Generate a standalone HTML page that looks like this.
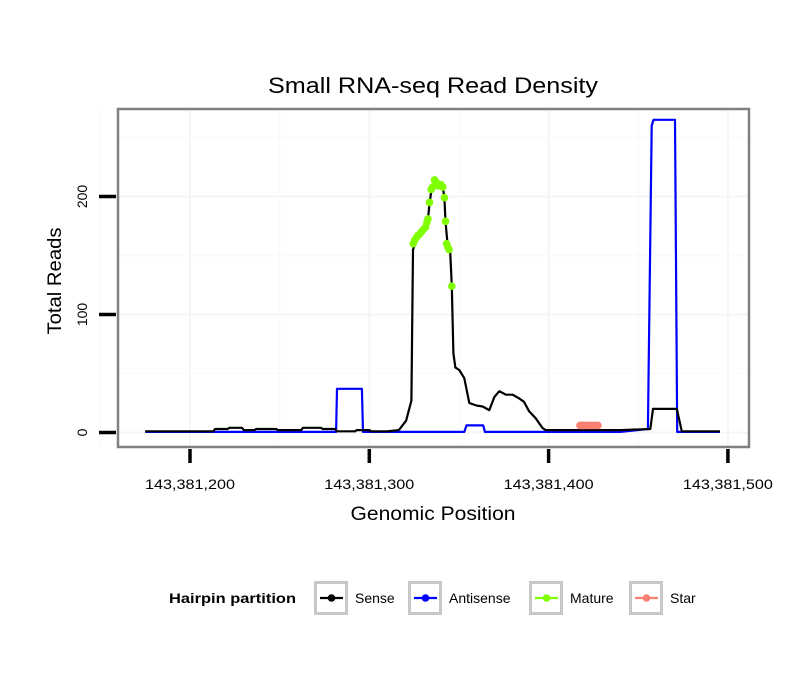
<!DOCTYPE html>
<html><head><meta charset="utf-8">
<style>
body{margin:0;background:#fff;}
svg{display:block;font-family:"Liberation Sans",Arial,sans-serif;}
</style></head>
<body>
<svg id="chart" width="810" height="690" viewBox="0 0 810 690">
<text x="433" y="93" font-size="22" text-anchor="middle" textLength="330" lengthAdjust="spacingAndGlyphs">Small RNA-seq Read Density</text>
<rect x="118" y="109" width="631" height="338" fill="#fff"/>
<g id="grid"></g>
<g id="series"></g>
<rect x="118" y="109" width="631" height="338" fill="none" stroke="#808080" stroke-width="2.5"/>
<g id="axes"></g>
<text x="433" y="520" font-size="19" text-anchor="middle" textLength="165" lengthAdjust="spacingAndGlyphs">Genomic Position</text>
<text transform="translate(61,281) rotate(-90)" font-size="19" text-anchor="middle" textLength="107" lengthAdjust="spacingAndGlyphs">Total Reads</text>
<g>
<text x="169" y="603" font-size="14" font-weight="bold" textLength="127" lengthAdjust="spacingAndGlyphs">Hairpin partition</text>
<g id="legend-items"></g>
</g>
</svg>
<script>
// genomic offsets from 143,381,000
const xTicks=[200,300,400,500];
const xTickLabels=["143,381,200","143,381,300","143,381,400","143,381,500"];
const yTicks=[0,100,200];
const yTickLabels=["0","100","200"];
const senseX=[175,213,214,221,222,229,230,236,237,243,244,248,249,262,263,273,274,281,282,292,293,300,301,310,316.5,320.5,323.5,324.4,326.2,329,331.4,332.7,333.6,334.5,336.4,338.8,341,341.9,342.5,343.8,345.1,346,346.9,348,350.2,353,355.8,359.5,363.2,366.9,369.7,372.5,376.2,379.9,383.5,386.3,389.1,392.8,396.5,398.3,420,440,456.7,458.2,471.5,474.3,495.6];
const senseY=[1,1,3,3,4,4,2,2,3,3,3,3,2,2,4,4,3,3,1,1,2,2,1,1,2,10,27,155,162,167,173,180,194,204,212,210,208,199,179,157,153,124,67,55,53,46,25,23,22,19,30,35,32,32,29,26,18,12,4,2,2,2,3,20,20,1,1];
const antiX=[175,220,281.5,282,295.9,296.5,300,353,354.2,363.5,364.5,440,455.4,457.5,458.5,470.5,471.7,495.6];
const antiY=[0.5,0.5,0.5,37,37,0.5,0.5,0.5,6,6,0.5,0.5,3,260,265,265,0.5,0.5];
const matureX=[324.5,325.3,326.2,327.1,328,329,330.1,331.4,332.1,332.7,333.6,334.5,335.3,336.4,337.3,338.1,338.8,340,341,341.9,342.5,343.1,343.8,344.5,346];
const matureY=[160,163,165,167,168,170,172,174,178,181,195,206,208,214,212,210,209,210,208,199,179,160,157,155,124];
const starX=[417.5,418.5,419.5,420.5,421.5,422.5,423.5,424.5,425.5,426.5,427.5];
const starY=[6,6,6,6,6,6,6,6,6,6,6];

const NS="http://www.w3.org/2000/svg";
const X0=190,XS=1.793,Y0=432.5,YS=1.18;
const sx=p=>X0+(p-200)*XS;
const sy=v=>Y0-v*YS;
function el(tag,attrs,parent){const e=document.createElementNS(NS,tag);for(const k in attrs)e.setAttribute(k,attrs[k]);parent.appendChild(e);return e;}
const grid=document.getElementById('grid'),series=document.getElementById('series'),axes=document.getElementById('axes');
[150,250,350,450].forEach(p=>{const l=el('line',{x1:sx(p),x2:sx(p),y1:110,y2:446,stroke:'#fafafa','stroke-width':1.2},grid);

});
xTicks.forEach(p=>{const l=el('line',{x1:sx(p),x2:sx(p),y1:110,y2:446,stroke:'#f5f5f5','stroke-width':2},grid);

});
[50,150,250].forEach(v=>{const l=el('line',{x1:119,x2:748,y1:sy(v),y2:sy(v),stroke:'#fafafa','stroke-width':1.2},grid);

});
yTicks.forEach(v=>{const l=el('line',{x1:119,x2:748,y1:sy(v),y2:sy(v),stroke:'#f5f5f5','stroke-width':2},grid);

});
xTicks.forEach((p,i)=>{const t=el('line',{x1:sx(p),x2:sx(p),y1:449,y2:463,stroke:'#000','stroke-width':3.5},axes);


const tx=el('text',{x:sx(p),y:489,'font-size':14,'text-anchor':'middle',textLength:90,lengthAdjust:'spacingAndGlyphs'},axes);tx.textContent=xTickLabels[i];

});
yTicks.forEach((v,i)=>{const t=el('line',{x1:99,x2:116,y1:sy(v),y2:sy(v),stroke:'#000','stroke-width':3.5},axes);


const tx=el('text',{'font-size':14,'text-anchor':'middle',transform:`translate(87,${sy(v)}) rotate(-90)`},axes);tx.textContent=yTickLabels[i];

});
function line(xs,ys,color,name){const d=xs.map((p,i)=>(i?'L':'M')+sx(p).toFixed(1)+','+sy(ys[i]).toFixed(1)).join('');
const pth=el('path',{d:d,fill:'none',stroke:color,'stroke-width':2.2,'stroke-linejoin':'round'},series);

}
line(antiX,antiY,'#0000ff','antisense-line');
line(senseX,senseY,'#000000','sense-line');
function pts(xs,ys,color,name){xs.forEach((p,i)=>{const c=el('circle',{cx:sx(p),cy:sy(ys[i]),r:3.8,fill:color},series);

});}
pts(matureX,matureY,'#7fff00','mature-point');
line(starX,starY,'#fa8072','star-line');
pts(starX,starY,'#fa8072','star-point');
const li=document.getElementById('legend-items');
const items=[["Sense","#000",314],["Antisense","#0000ff",408],["Mature","#7fff00",529],["Star","#fa8072",629]];
items.forEach(([lab,col,x])=>{const g=el('g',{},li);


el('rect',{x:x+1.5,y:582.5,width:31,height:31,fill:'#fff',stroke:'#c8c8c8','stroke-width':3},g);
el('line',{x1:x+6,x2:x+29,y1:598,y2:598,stroke:col,'stroke-width':2.2},g);
el('circle',{cx:x+17.5,cy:598,r:3.8,fill:col},g);
const t=el('text',{x:x+41,y:603,'font-size':14},g);t.textContent=lab;});
</script>
</body></html>
